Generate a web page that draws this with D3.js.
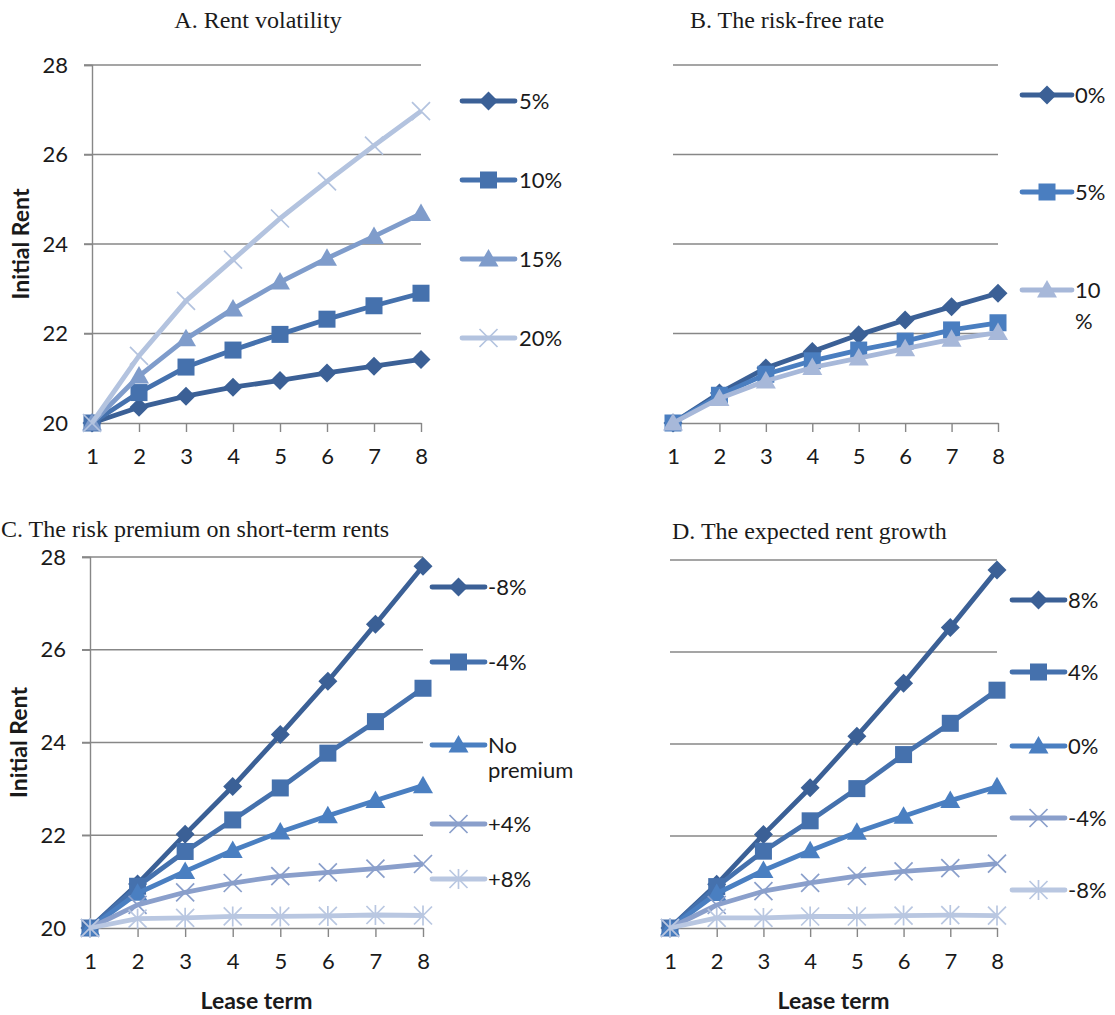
<!DOCTYPE html>
<html><head><meta charset="utf-8">
<script src="https://cdn.jsdelivr.net/npm/d3@7"></script>
<style>body{margin:0;background:#fff} svg{display:block}</style>
</head><body>
<svg id="c" width="1115" height="1015"></svg>
<script>
// ---------- data ----------
const leaseTerms = [1, 2, 3, 4, 5, 6, 7, 8];
const yTicks = [20, 22, 24, 26, 28];

const titles = ["A. Rent volatility", "B. The risk-free rate",
                "C. The risk premium on short-term rents", "D. The expected rent growth"];

// Panel A: rent volatility
const volLabels = ["5%", "10%", "15%", "20%"];
const vol05 = [20, 20.35, 20.60, 20.80, 20.95, 21.12, 21.27, 21.42];
const vol10 = [20, 20.68, 21.25, 21.63, 21.98, 22.32, 22.62, 22.90];
const vol15 = [20, 21.05, 21.88, 22.55, 23.15, 23.68, 24.17, 24.68];
const vol20 = [20, 21.50, 22.73, 23.65, 24.57, 25.40, 26.20, 26.97];

// Panel B: risk-free rate
const rfLabels = ["0%", "5%", "10\n%"];
const rf00 = [20, 20.67, 21.23, 21.60, 21.97, 22.30, 22.60, 22.90];
const rf05 = [20, 20.62, 21.09, 21.39, 21.63, 21.83, 22.08, 22.24];
const rf10 = [20, 20.55, 20.94, 21.24, 21.45, 21.66, 21.87, 22.02];

// Panel C: risk premium on short-term rents
const premLabels = ["-8%", "-4%", "No\npremium", "+4%", "+8%"];
const premM8 = [20, 20.95, 22.02, 23.05, 24.17, 25.32, 26.55, 27.80];
const premM4 = [20, 20.90, 21.65, 22.33, 23.02, 23.77, 24.45, 25.17];
const prem00 = [20, 20.75, 21.22, 21.67, 22.07, 22.42, 22.75, 23.07];
const premP4 = [20, 20.50, 20.77, 20.97, 21.12, 21.20, 21.28, 21.38];
const premP8 = [20, 20.20, 20.22, 20.25, 20.25, 20.26, 20.28, 20.27];

// Panel D: expected rent growth
const growthLabels = ["8%", "4%", "0%", "-4%", "-8%"];
const grP8 = [20, 20.95, 22.03, 23.05, 24.17, 25.32, 26.53, 27.78];
const grP4 = [20, 20.90, 21.67, 22.33, 23.03, 23.77, 24.45, 25.17];
const gr00 = [20, 20.75, 21.25, 21.68, 22.08, 22.43, 22.77, 23.07];
const grM4 = [20, 20.50, 20.80, 20.98, 21.13, 21.23, 21.30, 21.40];
const grM8 = [20, 20.22, 20.22, 20.25, 20.25, 20.27, 20.28, 20.27];

// ---------- styles ----------
const C_DARK = "#3b6096", C_SQ = "#4571ad", C_TRI_A = "#7f9ccb", C_X_A = "#b3c3df",
      C_TRI_B = "#a7b8d9", C_SQ_B = "#4a7ec0", C_TRI_C = "#4a7fc1", C_X_C = "#8a9fcb", C_STAR = "#b9c7e1";
const GRID = "#878787";
const TICK_FONT = "Lato, 'Open Sans', sans-serif";
const TITLE_FONT = "'Liberation Serif', 'Times New Roman', serif";

const panels = [
  { title: titles[0], titleX: 258, titleAnchor: "middle", titleY: 28,
    left: 92, right: 421, top: 65, bottom: 423, yAxis: true, xTitle: false,
    legLine: [462, 515], legText: 519, legY: [101, 180, 259, 338], lineGap: 26,
    series: [
      { name: volLabels[0], v: vol05, c: C_DARK, m: "diamond" },
      { name: volLabels[1], v: vol10, c: C_SQ, m: "square" },
      { name: volLabels[2], v: vol15, c: C_TRI_A, m: "triangle" },
      { name: volLabels[3], v: vol20, c: C_X_A, m: "x" } ] },
  { title: titles[1], titleX: 787, titleAnchor: "middle", titleY: 28,
    left: 673, right: 998, top: 65, bottom: 423, yAxis: false, xTitle: false,
    legLine: [1022, 1072], legText: 1075, legY: [95, 192, 290], lineGap: 31,
    series: [
      { name: rfLabels[0], v: rf00, c: C_DARK, m: "diamond" },
      { name: rfLabels[1], v: rf05, c: C_SQ_B, m: "square" },
      { name: rfLabels[2], v: rf10, c: C_TRI_B, m: "triangle" } ] },
  { title: titles[2], titleX: 1, titleAnchor: "start", titleY: 537,
    left: 90, right: 423, top: 557, bottom: 928, yAxis: true, xTitle: true,
    legLine: [432, 485], legText: 488, legY: [587, 662, 745, 824, 879], lineGap: 25,
    series: [
      { name: premLabels[0], v: premM8, c: C_DARK, m: "diamond" },
      { name: premLabels[1], v: premM4, c: C_SQ, m: "square" },
      { name: premLabels[2], v: prem00, c: C_TRI_C, m: "triangle" },
      { name: premLabels[3], v: premP4, c: C_X_C, m: "x" },
      { name: premLabels[4], v: premP8, c: C_STAR, m: "star" } ] },
  { title: titles[3], titleX: 672, titleAnchor: "start", titleY: 539,
    left: 670, right: 997, top: 560, bottom: 928, yAxis: false, xTitle: true,
    legLine: [1012, 1065], legText: 1068, legY: [600, 672, 746, 818, 890], lineGap: 25,
    series: [
      { name: growthLabels[0], v: grP8, c: C_DARK, m: "diamond" },
      { name: growthLabels[1], v: grP4, c: C_SQ, m: "square" },
      { name: growthLabels[2], v: gr00, c: C_TRI_C, m: "triangle" },
      { name: growthLabels[3], v: grM4, c: C_X_C, m: "x" },
      { name: growthLabels[4], v: grM8, c: C_STAR, m: "star" } ] }
];

const svg = d3.select("#c");

function marker(g, type, color) {
  if (type === "diamond") {
    g.append("path").attr("d", "M0,-9.5L9.5,0L0,9.5L-9.5,0Z").attr("fill", color);
  } else if (type === "square") {
    g.append("rect").attr("x", -8.5).attr("y", -8.5).attr("width", 17).attr("height", 17).attr("fill", color);
  } else if (type === "triangle") {
    g.append("path").attr("d", "M0,-10L10,7.5L-10,7.5Z").attr("fill", color);
  } else {
    const s = 9;
    g.append("path").attr("d", `M${-s},${-s}L${s},${s}M${-s},${s}L${s},${-s}` + (type === "star" ? `M0,${-s - 1}L0,${s + 1}` : ""))
      .attr("stroke", color).attr("stroke-width", 1.7).attr("fill", "none");
  }
}

panels.forEach(p => {
  const x = d3.scalePoint().domain(leaseTerms).range([p.left, p.right]);
  const y = d3.scaleLinear().domain([20, 28]).range([p.bottom, p.top]);
  const g = svg.append("g");

  // title
  g.append("text").attr("x", p.titleX).attr("y", p.titleY).attr("text-anchor", p.titleAnchor)
    .attr("font-family", TITLE_FONT).attr("font-size", 24).attr("fill", "#1a1a1a").text(p.title);

  // gridlines
  g.selectAll(".grid").data(yTicks.filter(t => t > 20)).join("line")
    .attr("x1", p.yAxis ? p.left - 8 : p.left).attr("x2", p.right)
    .attr("y1", d => y(d)).attr("y2", d => y(d))
    .attr("stroke", GRID).attr("stroke-width", 1.4);

  // y axis
  if (p.yAxis) {
    const ya = d3.axisLeft(y).tickValues(yTicks).tickSize(8).tickPadding(16);
    const yg = g.append("g").attr("transform", `translate(${p.left},0)`).call(ya);
    yg.select(".domain").attr("stroke", GRID).attr("stroke-width", 1.4);
    yg.selectAll(".tick line").attr("stroke", GRID).attr("stroke-width", 1.4);
    yg.selectAll(".tick text").attr("font-family", TICK_FONT).attr("font-size", 22).attr("fill", "#1a1a1a");
    g.append("text").attr("transform", `translate(${p.left - 63},${(p.top + p.bottom) / 2}) rotate(-90)`)
      .attr("text-anchor", "middle").attr("font-family", TICK_FONT).attr("font-weight", "bold")
      .attr("font-size", 23).attr("fill", "#1a1a1a").text("Initial Rent");
  }

  // x axis
  const xa = d3.axisBottom(x).tickSize(9).tickPadding(16).tickSizeOuter(0);
  const xg = g.append("g").attr("transform", `translate(0,${p.bottom})`).call(xa);
  xg.select(".domain").attr("stroke", GRID).attr("stroke-width", 1.4);
  xg.selectAll(".tick line").attr("stroke", GRID).attr("stroke-width", 1.4);
  xg.selectAll(".tick text").attr("font-family", TICK_FONT).attr("font-size", 22).attr("fill", "#1a1a1a");
  if (p.xTitle) {
    g.append("text").attr("x", (p.left + p.right) / 2).attr("y", p.bottom + 81)
      .attr("text-anchor", "middle").attr("font-family", TICK_FONT).attr("font-weight", "bold")
      .attr("font-size", 23).attr("fill", "#1a1a1a").text("Lease term");
  }

  // series
  const line = d3.line().x((d, i) => x(leaseTerms[i])).y(d => y(d));
  p.series.forEach(s => {
    g.append("path").datum(s.v).attr("d", line).attr("fill", "none")
      .attr("stroke", s.c).attr("stroke-width", 4.8).attr("stroke-linejoin", "round");
    s.v.forEach((d, i) => {
      marker(g.append("g").attr("transform", `translate(${x(leaseTerms[i])},${y(d)})`), s.m, s.c);
    });
  });

  // legend
  p.series.forEach((s, i) => {
    const ly = p.legY[i];
    const lg = g.append("g");
    lg.append("line").attr("x1", p.legLine[0]).attr("x2", p.legLine[1]).attr("y1", ly).attr("y2", ly)
      .attr("stroke", s.c).attr("stroke-width", 4.8).attr("stroke-linecap", "round");
    marker(lg.append("g").attr("transform", `translate(${(p.legLine[0] + p.legLine[1]) / 2},${ly})`), s.m, s.c);
    const t = lg.append("text").attr("x", p.legText).attr("y", ly)
      .attr("font-family", TICK_FONT).attr("font-size", 22).attr("fill", "#1a1a1a");
    s.name.split("\n").forEach((part, k) => {
      t.append("tspan").attr("x", p.legText).attr("dy", k === 0 ? "0.35em" : p.lineGap).text(part);
    });
  });
});
</script>
</body></html>
